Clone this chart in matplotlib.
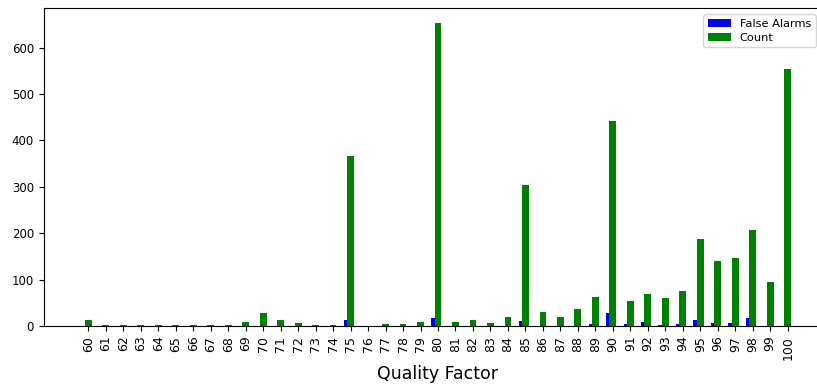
import numpy as np
import matplotlib
matplotlib.use("Agg")
import matplotlib.pyplot as plt

quality = list(range(60, 101))

false_alarms = [1, 1, 1, 1, 1, 1, 1, 1, 1, 1,
                1, 1, 1, 1, 1, 12, 1, 1, 1, 1,
                17, 1, 1, 1, 1, 10, 1, 1, 1, 4,
                27, 4, 8, 2, 4, 14, 6, 6, 17, 1,
                1]

count = [12, 2, 2, 2, 2, 2, 2, 2, 2, 8,
         27, 12, 6, 2, 2, 366, 1, 4, 4, 8,
         653, 8, 12, 6, 19, 304, 30, 19, 36, 62,
         442, 54, 69, 60, 75, 187, 140, 146, 207, 95,
         554]

tick_labels = [str(q) for q in quality]

W, H = 817, 386
fig = plt.figure(figsize=(W / 100, H / 100), dpi=100)
left, right, top, bottom = 43.7, 832.3, 8.0, 326.0
ax = fig.add_axes([left / W, 1 - bottom / H, (right - left) / W, (bottom - top) / H])

x = np.array(quality, dtype=float)
w = 0.39
ax.bar(x - w, false_alarms, w, align="edge", color="blue", label="False Alarms")
ax.bar(x, count, w, color="green", label="Count")

ax.set_xlim(60 - 2.55, 100 + 2.55)
ax.margins(y=0.05)
ax.set_xticks(x)
ax.set_xticklabels(tick_labels, rotation=90, fontsize=9)
ax.tick_params(axis="y", labelsize=8.5)
ax.set_xlabel("Quality Factor", fontsize=12.5)

ax.legend(loc="upper left", bbox_to_anchor=(703.3 / W, 1 - 14.3 / H),
          bbox_transform=fig.transFigure, borderaxespad=0, fontsize=8.2,
          labelspacing=0.35)

fig.savefig("out.png", dpi=100)
